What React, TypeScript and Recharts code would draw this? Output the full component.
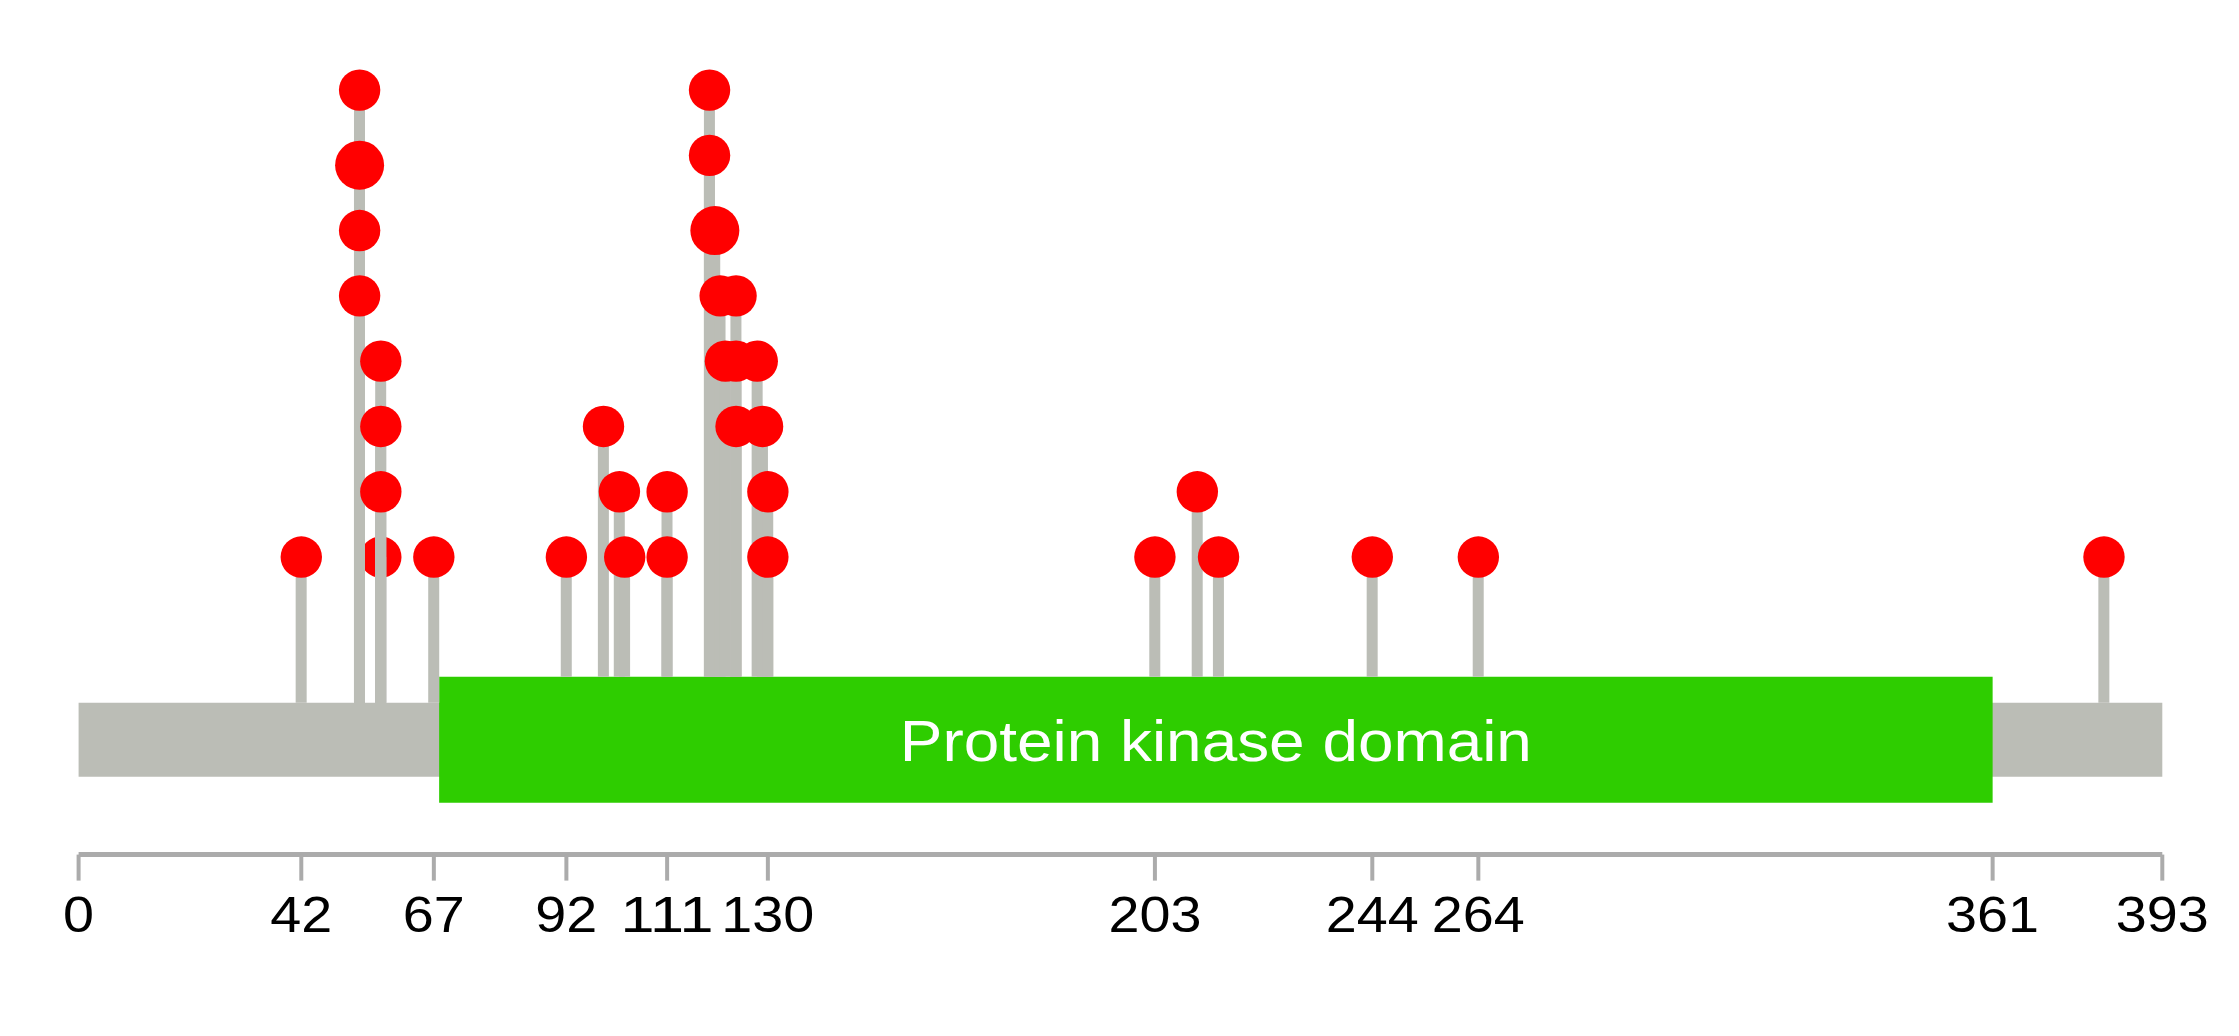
import React from 'react';
import { ComposedChart, XAxis, YAxis, Bar, Scatter, ReferenceArea } from 'recharts';

// ---- data ----
const proteinLength = 393;
const axisTicks = [0, 42, 67, 92, 111, 130, 203, 244, 264, 361, 393];

const domainNames = ['Protein kinase domain'];
const domainStarts = [68];
const domainEnds = [361];

// mutation lollipops: residue position, stack height, enlarged dot, drawn beneath stems
const mutationPos = [42, 53, 53, 53, 53, 57, 57, 57, 57, 67, 92, 99, 102, 103, 111, 111, 119, 119, 120, 121, 122, 124, 124, 124, 128, 129, 130, 130, 203, 211, 215, 244, 264, 382];
const stackLevel = [1, 5, 6, 7, 8.15, 1, 2, 3, 4, 1, 1, 3, 2, 1, 1, 2, 7.15, 8.15, 6, 5, 4, 3, 4, 5, 4, 3, 1, 2, 1, 2, 1, 1, 1, 1];
const enlargedDot = [false, false, false, true, false, false, false, false, false, false, false, false, false, false, false, false, false, false, true, false, false, false, false, false, false, false, false, false, false, false, false, false, false, false];
const beneathStems = [false, false, false, false, false, true, false, false, false, false, false, false, false, false, false, false, false, false, false, false, false, false, false, false, false, false, false, false, false, false, false, false, false, false];

// ---- track geometry (in y-axis units) ----
const Y_DOMAIN: [number, number] = [-3.556, 9];
const BACKBONE_BAND: [number, number] = [-2.364, -1.231];
const DOMAIN_BAND: [number, number] = [-2.763, -0.833];

const GRAY = '#BBBDB6';
const GREEN = '#2ECD00';
const RED = '#FF0000';
const AXIS = '#ABABAB';
const FONT = "'Liberation Sans', Arial, Helvetica, sans-serif";
const DOT_R = 20.7;
const BIG_R = 24.5;
const STEM_W = 11;

const inDomain = (p: number) => domainStarts.some((s, i) => p >= s && p <= domainEnds[i]);

const rows = mutationPos.map((pos, i) => ({
  pos,
  level: stackLevel[i],
  big: enlargedDot[i],
  under: beneathStems[i],
  stem: [inDomain(pos) ? DOMAIN_BAND[1] : BACKBONE_BAND[1], stackLevel[i]],
}));
const underRows = rows.filter((r) => r.under);
const mainRows = rows.filter((r) => !r.under);

const DotShape = (props: any) => {
  const { cx, cy, payload } = props;
  if (cx == null || cy == null) return null;
  return <circle cx={cx} cy={cy} r={payload && payload.big ? BIG_R : DOT_R} fill={RED} />;
};

// stem: keep the library's bar centre and height, draw it at the stem width
const StemShape = (props: any) => {
  const { x, y, width, height } = props;
  if (x == null || y == null || !isFinite(height)) return null;
  const cx = x + width / 2;
  const top = Math.min(y, y + height);
  return <rect x={cx - STEM_W / 2} y={top} width={STEM_W} height={Math.abs(height)} fill={GRAY} />;
};

const AxisTick = (props: any) => {
  const { x, y, payload } = props;
  const s = String(payload.value);
  return (
    <text
      x={x}
      y={y}
      dy="0.71em"
      textAnchor="middle"
      fontSize={50}
      fontFamily={FONT}
      fill="#000"
      textLength={s.length * 31}
      lengthAdjust="spacingAndGlyphs"
    >
      {s}
    </text>
  );
};

const makeDomainLabel = (name: string) => (props: any) => {
  const vb = props.viewBox || {};
  const cx = vb.x + vb.width / 2;
  const cy = vb.y + vb.height / 2;
  return (
    <text
      x={cx}
      y={cy}
      dy="0.36em"
      textAnchor="middle"
      fontSize={58}
      fontFamily={FONT}
      fill="#FFFFFF"
      textLength={632}
      lengthAdjust="spacingAndGlyphs"
    >
      {name}
    </text>
  );
};

export default function App() {
  return (
    <div style={{ width: 2223, height: 1020 }}>
      <ComposedChart
        width={2223}
        height={1020}
        data={rows}
        margin={{ top: 26.6, right: 68.7, bottom: 0, left: 70.6 }}
      >
        <XAxis
          type="number"
          dataKey="pos"
          domain={[0, proteinLength]}
          ticks={axisTicks}
          interval={0}
          height={173.4}
          axisLine={{ stroke: AXIS, strokeWidth: 5 }}
          tickLine={{ stroke: AXIS, strokeWidth: 4 }}
          tickSize={26}
          tickMargin={16}
          tick={<AxisTick />}
          allowDataOverflow
        />
        <YAxis type="number" domain={Y_DOMAIN} hide allowDataOverflow />
        <ReferenceArea
          x1={0}
          x2={proteinLength}
          y1={BACKBONE_BAND[0]}
          y2={BACKBONE_BAND[1]}
          fill={GRAY}
          fillOpacity={1}
          stroke="none"
        />
        {domainNames.map((name, i) => (
          <ReferenceArea
            key={name}
            x1={domainStarts[i]}
            x2={domainEnds[i]}
            y1={DOMAIN_BAND[0]}
            y2={DOMAIN_BAND[1]}
            fill={GREEN}
            fillOpacity={1}
            stroke="none"
            label={makeDomainLabel(name)}
          />
        ))}
        <Scatter
          data={underRows}
          dataKey="level"
          shape={<DotShape />}
          isAnimationActive={false}
          zIndex={250}
        />
        <Bar dataKey="stem" fill={GRAY} shape={<StemShape />} isAnimationActive={false} />
        <Scatter
          data={mainRows}
          dataKey="level"
          shape={<DotShape />}
          isAnimationActive={false}
        />
      </ComposedChart>
    </div>
  );
}
